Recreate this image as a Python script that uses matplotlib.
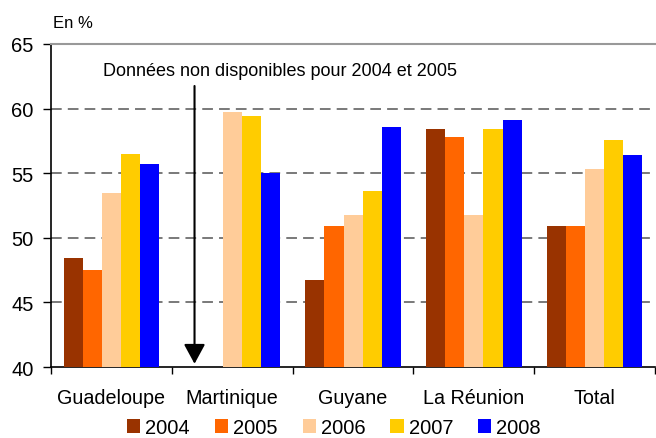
import matplotlib
matplotlib.use('Agg')
import matplotlib.pyplot as plt
import numpy as np

plt.rcParams['font.family'] = ['Liberation Sans', 'DejaVu Sans']

regions = ['Guadeloupe', 'Martinique', 'Guyane', 'La Réunion', 'Total']
years = ['2004', '2005', '2006', '2007', '2008']
colors = ['#993300', '#FF6600', '#FFCC99', '#FFCC00', '#0000FF']
# valeurs en %, nan = donnees non disponibles
v2004 = [48.4, np.nan, 46.7, 58.4, 50.9]
v2005 = [47.5, np.nan, 50.9, 57.8, 50.9]
v2006 = [53.5, 59.7, 51.8, 51.8, 55.3]
v2007 = [56.5, 59.4, 53.6, 58.4, 57.6]
v2008 = [55.7, 55.0, 58.6, 59.1, 56.4]
series = [v2004, v2005, v2006, v2007, v2008]

fig = plt.figure(figsize=(6.56, 4.39), dpi=100)
ax = fig.add_axes([0.0777, 0.1617, 0.921, 0.7358])

x = np.arange(len(regions))
w = 0.158
for i, (vals, c, yr) in enumerate(zip(series, colors, years)):
    ax.bar(x + (i - 2) * w, vals, w, bottom=0, color=c, label=yr, zorder=3)

ax.set_ylim(40, 65)
ax.set_xlim(-0.5, 4.5)
ax.set_yticks([40, 45, 50, 55, 60, 65])
for yv in [45, 50, 55, 60]:
    ax.axhline(yv, color='#555555', lw=1.1, ls=(0, (7, 4)), zorder=1)

ax.set_xticks(x)
ax.set_xticklabels(regions)
ax.set_xticks(np.arange(-0.5, 5, 1), minor=True)
ax.tick_params(axis='x', which='major', length=0, pad=15, labelsize=14.2)
ax.tick_params(axis='x', which='minor', length=5, width=1, direction='out')
ax.tick_params(axis='y', length=5.5, width=1, pad=7, labelsize=14.5)

ax.spines['right'].set_visible(False)
ax.spines['top'].set_color('#999999')
ax.spines['top'].set_linewidth(1.5)
ax.spines['left'].set_linewidth(1.2)
ax.spines['bottom'].set_linewidth(1.2)

ax.annotate('', xy=(0.688, 40.25), xytext=(0.688, 61.75),
            arrowprops=dict(arrowstyle='-|>,head_length=1.2,head_width=0.65',
                            lw=1.5, color='black', mutation_scale=10,
                            shrinkA=0, shrinkB=0))
ax.text(-0.071, 62.6, 'Données non disponibles pour 2004 et 2005',
        fontsize=13, ha='left', va='baseline')

fig.text(0.081, 0.936, 'En %', fontsize=12, ha='left', va='baseline')

fig.legend(loc='center', bbox_to_anchor=(0.509, 0.024), ncol=5, frameon=False,
           fontsize=14.5, handlelength=0.65, handleheight=0.65,
           handletextpad=0.25, columnspacing=1.25, borderaxespad=0)

fig.savefig('out.png', dpi=100)
